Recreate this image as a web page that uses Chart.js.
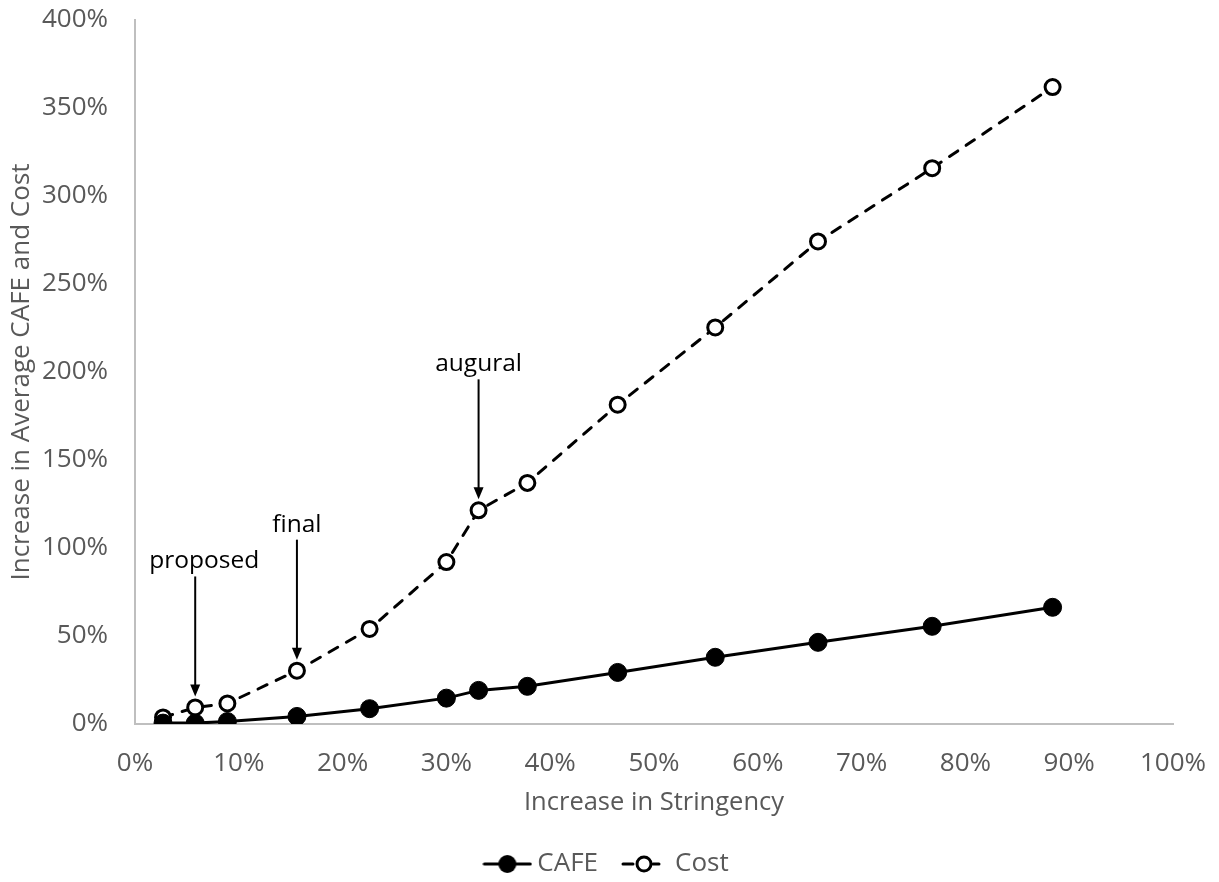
<!DOCTYPE html>
<html>
<head>
<meta charset="utf-8">
<script src="https://cdn.jsdelivr.net/npm/chart.js@4"></script>
<style>
  html, body { margin: 0; padding: 0; background: #fff; }
  #wrap { width: 1219px; height: 882px; }
</style>
</head>
<body>
<div id="wrap"><canvas id="chart"></canvas></div>
<script>
(() => {
  'use strict';

  // increase in stringency (x) for each scenario
  const stringency = [0.027, 0.058, 0.089, 0.156, 0.226, 0.300, 0.331, 0.378, 0.465, 0.559, 0.658, 0.768, 0.884];
  // increase in average CAFE
  const cafe = [0.005, 0.005, 0.014, 0.043, 0.087, 0.147, 0.191, 0.214, 0.293, 0.379, 0.464, 0.555, 0.663];
  // increase in cost
  const cost = [0.037, 0.094, 0.117, 0.303, 0.540, 0.920, 1.214, 1.370, 1.814, 2.253, 2.742, 3.158, 3.619];

  const xTicks = [0, 0.1, 0.2, 0.3, 0.4, 0.5, 0.6, 0.7, 0.8, 0.9, 1.0];
  const yTicks = [0, 0.5, 1.0, 1.5, 2.0, 2.5, 3.0, 3.5, 4.0];

  // arrows pointing at points of the cost series
  const notes = ['proposed', 'final', 'augural'];
  const noteIndex = [1, 3, 6];

  const FONT = '"Open Sans", "Noto Sans", sans-serif';
  const GREY = '#595959';

  const toPoints = (xs, ys) => xs.map((x, i) => ({ x: x, y: ys[i] }));
  const pct = (v) => `${Math.round(v * 100)}%`;

  /**
   * Builds a small legend symbol: a line with a marker on it
   */
  const legendSymbol = (dashed) => {
    const c = document.createElement('canvas');
    c.width = 50;
    c.height = 24;
    const g = c.getContext('2d');
    g.strokeStyle = '#000';
    g.lineWidth = 3;
    g.lineCap = 'round';
    g.beginPath();
    if (dashed) {
      // short dash, marker, short dash
      g.moveTo(3, 12);
      g.lineTo(13, 12);
      g.moveTo(33, 12);
      g.lineTo(39, 12);
    } else {
      g.moveTo(2, 12);
      g.lineTo(48, 12);
    }
    g.stroke();
    g.beginPath();
    if (dashed) {
      g.arc(24, 12, 7, 0, Math.PI * 2);
      g.fillStyle = '#fff';
      g.fill();
      g.stroke();
    } else {
      g.arc(25, 12, 9, 0, Math.PI * 2);
      g.fillStyle = '#000';
      g.fill();
    }
    return c;
  };

  const symbols = [legendSymbol(false), legendSymbol(true)];

  /**
   * Draws the labelled arrows above chosen points
   */
  const arrowPlugin = {
    id: 'arrows',
    afterLayout(chart) {
      // nudge the legend a little lower, like the original
      if (chart.legend) {
        chart.legend.top += 5;
        chart.legend.bottom += 5;
      }
    },
    afterDatasetsDraw(chart) {
      const ctx = chart.ctx;
      const meta = chart.getDatasetMeta(1);
      ctx.save();
      ctx.strokeStyle = '#000';
      ctx.fillStyle = '#000';
      ctx.lineWidth = 2;
      ctx.font = `24.5px ${FONT}`;
      ctx.textAlign = 'center';
      ctx.textBaseline = 'middle';
      notes.forEach((text, i) => {
        const pt = meta.data[noteIndex[i]];
        const tip = pt.y - 11;
        const top = tip - 120;
        ctx.beginPath();
        ctx.moveTo(pt.x, top);
        ctx.lineTo(pt.x, tip - 8);
        ctx.stroke();
        ctx.beginPath();
        ctx.moveTo(pt.x, tip);
        ctx.lineTo(pt.x - 5, tip - 12);
        ctx.lineTo(pt.x + 5, tip - 12);
        ctx.closePath();
        ctx.fill();
        ctx.fillText(text, pt.x + (i === 0 ? 9 : 0), top - 15);
      });
      ctx.restore();
    }
  };

  new Chart(document.getElementById('chart'), {
    type: 'scatter',
    data: {
      datasets: [
        {
          label: 'CAFE',
          data: toPoints(stringency, cafe),
          showLine: true,
          borderColor: '#000',
          backgroundColor: '#000',
          borderWidth: 3,
          pointRadius: 9,
          pointBorderWidth: 1,
          pointBackgroundColor: '#000',
          pointBorderColor: '#000'
        },
        {
          label: 'Cost',
          data: toPoints(stringency, cost),
          showLine: true,
          borderColor: '#000',
          backgroundColor: '#fff',
          borderWidth: 3,
          borderDash: [10, 10],
          borderCapStyle: 'round',
          pointRadius: 7.5,
          pointBorderWidth: 3,
          pointBackgroundColor: '#fff',
          pointBorderColor: '#000'
        }
      ]
    },
    options: {
      responsive: true,
      maintainAspectRatio: false,
      animation: false,
      layout: { padding: { top: 0, right: 0, left: 0, bottom: 0 } },
      plugins: {
        tooltip: { enabled: false },
        legend: {
          position: 'bottom',
          labels: {
            usePointStyle: true,
            pointStyleWidth: 34,
            padding: 30,
            color: GREY,
            font: { family: FONT, size: 26 },
            generateLabels: (chart) => chart.data.datasets.map((ds, i) => ({
              text: ds.label,
              pointStyle: symbols[i],
              fontColor: GREY,
              datasetIndex: i,
              lineWidth: 0
            }))
          }
        }
      },
      scales: {
        x: {
          type: 'linear',
          min: 0,
          max: 1,
          afterBuildTicks: (scale) => { scale.ticks = xTicks.map(v => ({ value: v })); },
          afterFit: (scale) => {
            const legendH = scale.chart.legend ? scale.chart.legend.height : 0;
            scale.height = 882 - 724 - legendH;
            scale.paddingLeft = 0;
            scale.paddingRight = 46;
          },
          grid: { display: false, drawTicks: false },
          border: { display: true, color: '#bfbfbf', width: 2 },
          ticks: {
            padding: 24,
            color: GREY,
            font: { family: FONT, size: 26 },
            callback: pct
          },
          title: {
            display: true,
            text: 'Increase in Stringency',
            color: GREY,
            font: { family: FONT, size: 25.5 },
            padding: { top: 0, bottom: -2 }
          }
        },
        y: {
          type: 'linear',
          min: 0,
          max: 4,
          afterBuildTicks: (scale) => { scale.ticks = yTicks.map(v => ({ value: v })); },
          afterFit: (scale) => {
            scale.width = 135;
            scale.paddingTop = 20;
            scale.paddingBottom = 0;
          },
          grid: { display: false, drawTicks: false },
          border: { display: true, color: '#bfbfbf', width: 2 },
          ticks: {
            padding: 27,
            color: GREY,
            font: { family: FONT, size: 26 },
            callback: pct
          },
          title: {
            display: true,
            text: 'Increase in Average CAFE and Cost',
            color: GREY,
            font: { family: FONT, size: 26 },
            padding: { top: 6, bottom: 0 }
          }
        }
      }
    },
    plugins: [arrowPlugin]
  });
})();
</script>
</body>
</html>
